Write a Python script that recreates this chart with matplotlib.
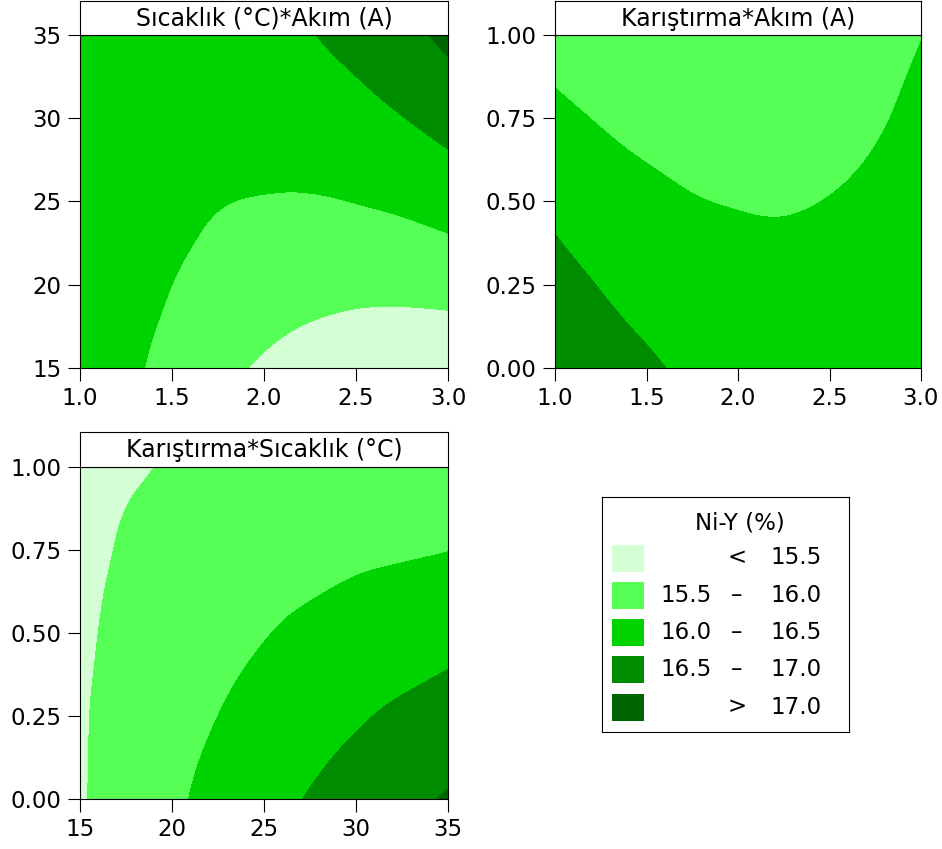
import numpy as np
import matplotlib
matplotlib.use("Agg")
import matplotlib.pyplot as plt
import matplotlib.tri as mtri
from matplotlib.patches import Rectangle

# kontur seviyeleri ve renkler (Ni-Y %)
LEVELS = [15.5, 16.0, 16.5, 17.0]
COLORS = ["#d4ffd4", "#55ff55", "#00d400", "#008c00", "#006400"]
LEGEND_TITLE = "Ni-Y (%)"

# eksen degerleri
akim = [1.0, 1.25, 1.5, 1.75, 2.0, 2.25, 2.5, 2.75, 3.0]
sicaklik = [15.0, 17.5, 20.0, 22.5, 25.0, 27.5, 30.0, 32.5, 35.0]
karistirma = [0.0, 0.125, 0.25, 0.375, 0.5, 0.625, 0.75, 0.875, 1.0]

# Sicaklik (satir) x Akim (sutun)
ni_y_sicaklik_akim = [
    [16.41, 16.11, 15.85, 15.63, 15.44, 15.30, 15.20, 15.13, 15.10],
    [16.42, 16.15, 15.93, 15.74, 15.59, 15.48, 15.41, 15.38, 15.39],
    [16.42, 16.19, 16.00, 15.85, 15.73, 15.66, 15.62, 15.63, 15.67],
    [16.41, 16.21, 16.06, 15.94, 15.86, 15.82, 15.82, 15.86, 15.94],
    [16.39, 16.23, 16.11, 16.02, 15.98, 15.97, 16.01, 16.08, 16.19],
    [16.36, 16.23, 16.14, 16.10, 16.09, 16.12, 16.18, 16.29, 16.44],
    [16.31, 16.22, 16.17, 16.16, 16.18, 16.25, 16.35, 16.49, 16.67],
    [16.26, 16.20, 16.19, 16.21, 16.27, 16.37, 16.50, 16.68, 16.90],
    [16.20, 16.18, 16.19, 16.25, 16.34, 16.48, 16.65, 16.86, 17.11],
]

# Karistirma (satir) x Akim (sutun)
ni_y_karistirma_akim = [
    [16.93, 16.73, 16.56, 16.43, 16.34, 16.29, 16.27, 16.30, 16.36],
    [16.80, 16.60, 16.45, 16.33, 16.25, 16.21, 16.21, 16.25, 16.32],
    [16.66, 16.48, 16.33, 16.23, 16.16, 16.13, 16.14, 16.19, 16.28],
    [16.53, 16.35, 16.22, 16.13, 16.07, 16.05, 16.08, 16.14, 16.24],
    [16.39, 16.23, 16.11, 16.02, 15.98, 15.97, 16.01, 16.08, 16.19],
    [16.25, 16.10, 15.99, 15.92, 15.89, 15.89, 15.94, 16.02, 16.15],
    [16.10, 15.97, 15.87, 15.81, 15.79, 15.81, 15.87, 15.96, 16.10],
    [15.96, 15.84, 15.75, 15.70, 15.69, 15.72, 15.79, 15.90, 16.05],
    [15.81, 15.70, 15.63, 15.59, 15.59, 15.64, 15.72, 15.84, 15.99],
]

# Karistirma (satir) x Sicaklik (sutun)
ni_y_karistirma_sicaklik = [
    [15.46, 15.70, 15.92, 16.14, 16.34, 16.53, 16.71, 16.88, 17.04],
    [15.46, 15.67, 15.88, 16.07, 16.25, 16.42, 16.58, 16.73, 16.87],
    [15.46, 15.65, 15.83, 16.00, 16.16, 16.31, 16.45, 16.58, 16.69],
    [15.45, 15.62, 15.78, 15.93, 16.07, 16.20, 16.32, 16.42, 16.52],
    [15.44, 15.59, 15.73, 15.86, 15.98, 16.09, 16.18, 16.27, 16.34],
    [15.43, 15.56, 15.68, 15.79, 15.89, 15.97, 16.05, 16.11, 16.16],
    [15.42, 15.53, 15.63, 15.71, 15.79, 15.85, 15.91, 15.95, 15.99],
    [15.41, 15.50, 15.57, 15.64, 15.69, 15.74, 15.77, 15.79, 15.80],
    [15.39, 15.46, 15.52, 15.56, 15.59, 15.62, 15.63, 15.63, 15.62],
]

W, H = 942, 849
fig = plt.figure(figsize=(W / 100, H / 100), dpi=100)


def px_rect(l, t, r, b):
    return [l / W, (H - b) / H, (r - l) / W, (b - t) / H]


def smooth_tri(x, y, z):
    # izgara noktalarini ucgenle, kubik olarak incelt (birim kare uzerinde)
    x = np.asarray(x)
    y = np.asarray(y)
    gx, gy = np.meshgrid((x - x[0]) / (x[-1] - x[0]), (y - y[0]) / (y[-1] - y[0]))
    tri = mtri.Triangulation(gx.ravel(), gy.ravel())
    interp = mtri.CubicTriInterpolator(tri, np.asarray(z).ravel(), kind="min_E")
    tri_f, z_f = mtri.UniformTriRefiner(tri).refine_field(np.asarray(z).ravel(), interp, subdiv=4)
    tri_out = mtri.Triangulation(x[0] + tri_f.x * (x[-1] - x[0]),
                                 y[0] + tri_f.y * (y[-1] - y[0]), tri_f.triangles)
    return tri_out, z_f


def panel(box, x, y, z, title, xt, xl, yt, yl, title_top):
    ax = fig.add_axes(px_rect(*box))
    tri, zf = smooth_tri(x, y, z)
    bounds = [zf.min() - 1] + LEVELS + [zf.max() + 1]
    ax.tricontourf(tri, zf, levels=bounds, colors=COLORS, antialiased=False)
    ax.set_xlim(x[0], x[-1])
    ax.set_ylim(y[0], y[-1])
    ax.set_xticks(xt)
    ax.set_xticklabels(xl)
    ax.set_yticks(yt)
    ax.set_yticklabels(yl)
    ax.tick_params(direction="out", length=9, width=0.8, labelsize=16.5, pad=4.5)
    for s in ax.spines.values():
        s.set_linewidth(0.8)
    # baslik kutusu
    tax = fig.add_axes(px_rect(box[0], title_top, box[2], box[1]))
    tax.set_xticks([])
    tax.set_yticks([])
    for s in tax.spines.values():
        s.set_linewidth(0.8)
    tax.text(0.5, 0.47, title, ha="center", va="center", fontsize=17, transform=tax.transAxes)


panel((80, 34.5, 448, 368), akim, sicaklik, ni_y_sicaklik_akim, "Sıcaklık (°C)*Akım (A)",
      [1, 1.5, 2, 2.5, 3], ["1.0", "1.5", "2.0", "2.5", "3.0"],
      [15, 20, 25, 30, 35], ["15", "20", "25", "30", "35"], 1)
panel((555, 34.5, 921, 368), akim, karistirma, ni_y_karistirma_akim, "Karıştırma*Akım (A)",
      [1, 1.5, 2, 2.5, 3], ["1.0", "1.5", "2.0", "2.5", "3.0"],
      [0, 0.25, 0.5, 0.75, 1], ["0.00", "0.25", "0.50", "0.75", "1.00"], 1)
panel((80, 466.5, 448, 799), sicaklik, karistirma, ni_y_karistirma_sicaklik, "Karıştırma*Sıcaklık (°C)",
      [15, 20, 25, 30, 35], ["15", "20", "25", "30", "35"],
      [0, 0.25, 0.5, 0.75, 1], ["0.00", "0.25", "0.50", "0.75", "1.00"], 432)

# lejant kutusu (piksel koordinatlari)
lax = fig.add_axes(px_rect(602, 497, 849, 732))
lax.set_xlim(0, 247)
lax.set_ylim(235, 0)
lax.set_xticks([])
lax.set_yticks([])
for s in lax.spines.values():
    s.set_linewidth(0.8)
lax.text(138, 26, LEGEND_TITLE, ha="center", va="center", fontsize=16.5)
for i, color in enumerate(COLORS):
    yc = 61 + i * 37.25
    lax.add_patch(Rectangle((10, yc - 13.5), 32, 27, facecolor=color, edgecolor="none"))
    if i == 0:
        lax.text(135, yc, "<", ha="center", va="center", fontsize=16.5)
        lax.text(220, yc, f"{LEVELS[0]:.1f}", ha="right", va="center", fontsize=16.5)
    elif i == len(COLORS) - 1:
        lax.text(135, yc, ">", ha="center", va="center", fontsize=16.5)
        lax.text(220, yc, f"{LEVELS[-1]:.1f}", ha="right", va="center", fontsize=16.5)
    else:
        lax.text(58, yc, f"{LEVELS[i - 1]:.1f}", ha="left", va="center", fontsize=16.5)
        lax.text(135, yc, "–", ha="center", va="center", fontsize=16.5)
        lax.text(220, yc, f"{LEVELS[i]:.1f}", ha="right", va="center", fontsize=16.5)

fig.savefig("out.png", dpi=100)
